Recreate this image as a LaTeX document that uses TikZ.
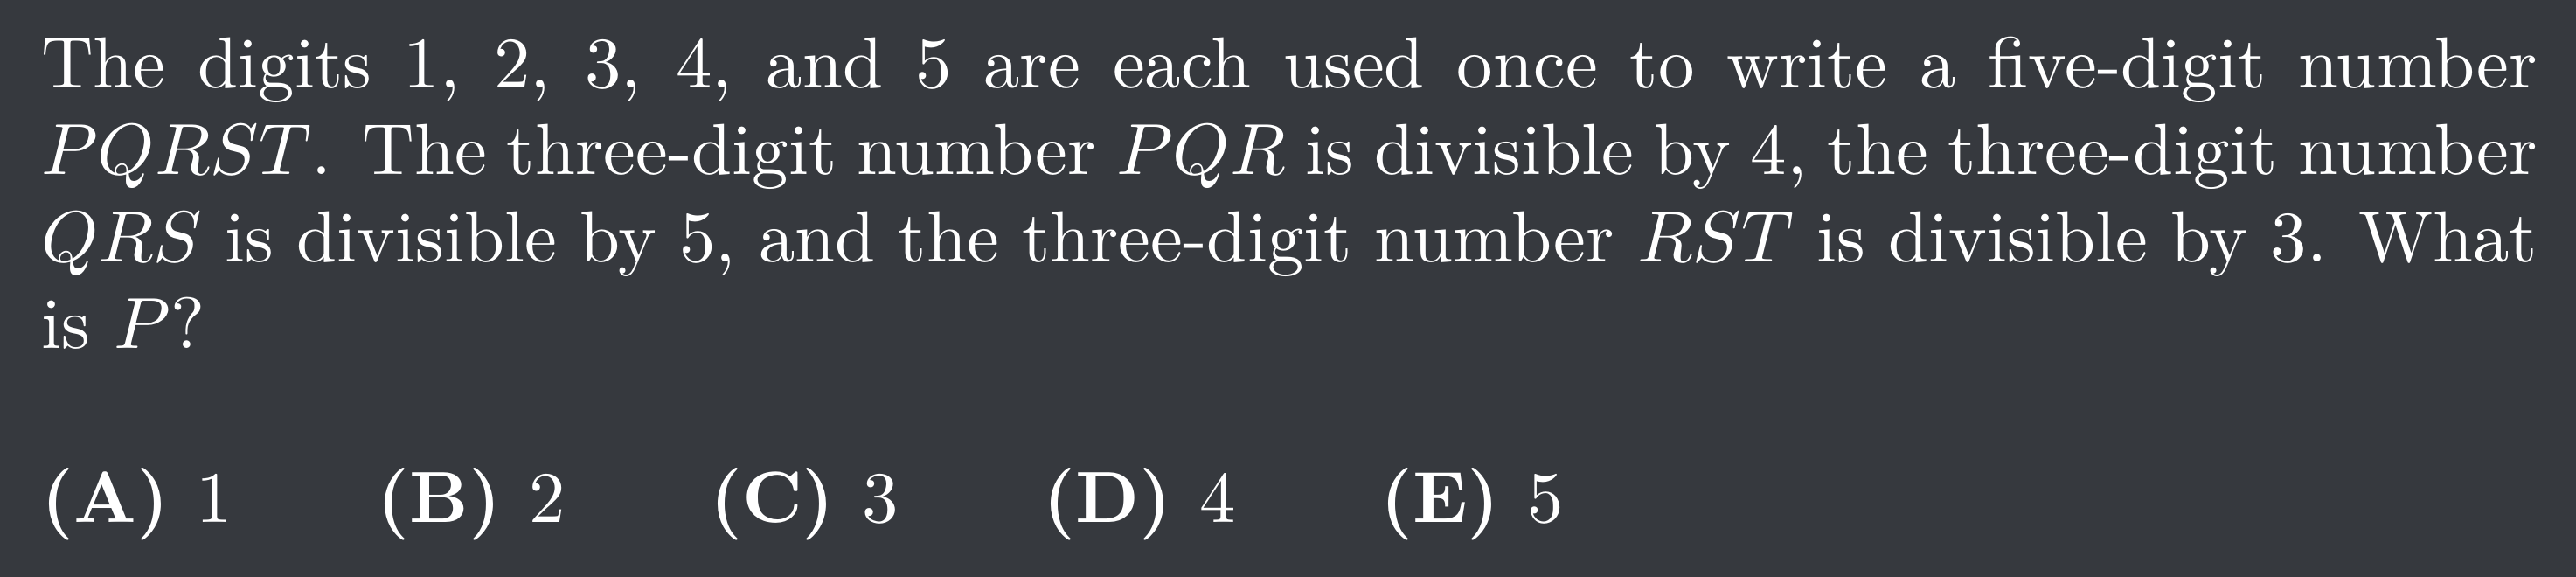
\documentclass[tikz,border=0pt]{standalone}
\definecolor{bg}{RGB}{54,57,62}
\tikzset{txt/.style={inner sep=0pt, text=white, anchor=base west}}
\begin{document}
\begin{tikzpicture}
\fill[bg] (0,0) rectangle (356pt,79.73pt);
\node[txt] (q) at (5.5pt,67.6pt) {\begin{minipage}[t]{345pt}The digits 1, 2, 3, 4, and 5 are each used once to write a five-digit number $PQRST$. The three-digit number $PQR$ is divisible by 4, the three-digit number $QRS$ is divisible by 5, and the three-digit number $RST$ is divisible by 3. What is $P$?\end{minipage}};
\node[txt] (ans) at (5.5pt,7.5pt) {$\textbf{(A) }1\qquad\textbf{(B) }2\qquad\textbf{(C) }3\qquad\textbf{(D) }4\qquad\textbf{(E) }5$};
\end{tikzpicture}
\end{document}
